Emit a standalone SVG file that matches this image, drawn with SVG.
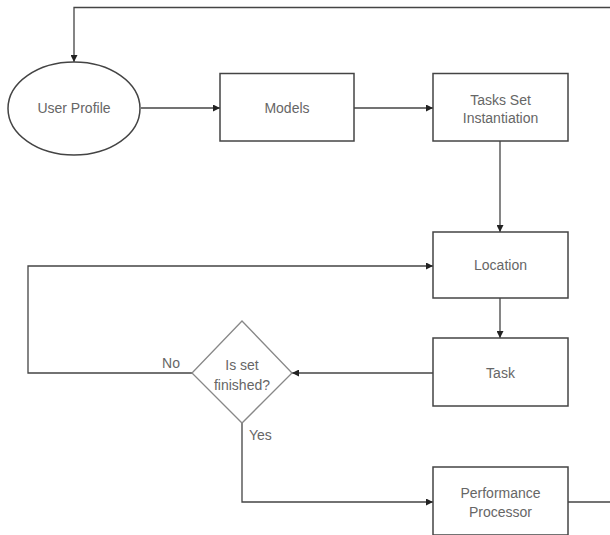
<svg xmlns="http://www.w3.org/2000/svg" width="610" height="535" viewBox="0 0 610 535">
  <style>
    .box { fill: #ffffff; stroke: #444444; stroke-width: 1.5; }
    .dia { fill: #ffffff; stroke: #888888; stroke-width: 1.3; }
    .edge { fill: none; stroke: #444444; stroke-width: 1.3; }
    .lbl { font-family: "Liberation Sans", Arial, sans-serif; font-size: 14px; fill: #666666; text-anchor: middle; }
    .elbl { font-family: "Liberation Sans", Arial, sans-serif; font-size: 14px; fill: #666666; }
  </style>
  <defs>
    <marker id="arr" viewBox="0 0 8 8" refX="8" refY="4" markerWidth="7" markerHeight="7" markerUnits="userSpaceOnUse" orient="auto">
      <path d="M0,0 L8,4 L0,8 z" fill="#222222"/>
    </marker>
  </defs>
  <rect width="610" height="535" fill="#ffffff"/>

  <g id="connectors">
    <path class="edge" d="M610,7.5 L74,7.5 L74,62" marker-end="url(#arr)"/>
    <path class="edge" d="M141,108 L220,108" marker-end="url(#arr)"/>
    <path class="edge" d="M354,108 L433,108" marker-end="url(#arr)"/>
    <path class="edge" d="M500,141 L500,232" marker-end="url(#arr)"/>
    <path class="edge" d="M500,298 L500,338" marker-end="url(#arr)"/>
    <path class="edge" d="M433,373 L292,373" marker-end="url(#arr)"/>
    <path class="edge" d="M192,373 L28,373 L28,266 L433,266" marker-end="url(#arr)"/>
    <path class="edge" d="M242,423 L242,502 L433,502" marker-end="url(#arr)"/>
    <path class="edge" d="M568,502 L610,502"/>
    <text class="lbl" x="171" y="368">No</text>
    <text class="elbl" x="249" y="440">Yes</text>
  </g>

  <g id="user-profile">
    <ellipse class="box" cx="74" cy="108.5" rx="66" ry="46.5"/>
    <text class="lbl" x="74" y="113">User Profile</text>
  </g>
  <g id="models">
    <rect class="box" x="220" y="73.5" width="134" height="67.5"/>
    <text class="lbl" x="287" y="113">Models</text>
  </g>
  <g id="tasks-set">
    <rect class="box" x="433" y="73.5" width="135" height="67.5"/>
    <text class="lbl" x="500.5" y="105">Tasks Set</text>
    <text class="lbl" x="500.5" y="123">Instantiation</text>
  </g>
  <g id="location">
    <rect class="box" x="433" y="232" width="135" height="66"/>
    <text class="lbl" x="500.5" y="270">Location</text>
  </g>
  <g id="task">
    <rect class="box" x="433" y="338" width="135" height="68"/>
    <text class="lbl" x="500.5" y="378">Task</text>
  </g>
  <g id="is-set-finished">
    <polygon class="dia" points="242,321 292,373 242,423 192,373"/>
    <text class="lbl" x="242" y="370">Is set</text>
    <text class="lbl" x="242" y="390">finished?</text>
  </g>
  <g id="performance-processor">
    <rect class="box" x="433" y="467" width="135" height="68"/>
    <text class="lbl" x="500.5" y="498">Performance</text>
    <text class="lbl" x="500.5" y="517">Processor</text>
  </g>
</svg>
